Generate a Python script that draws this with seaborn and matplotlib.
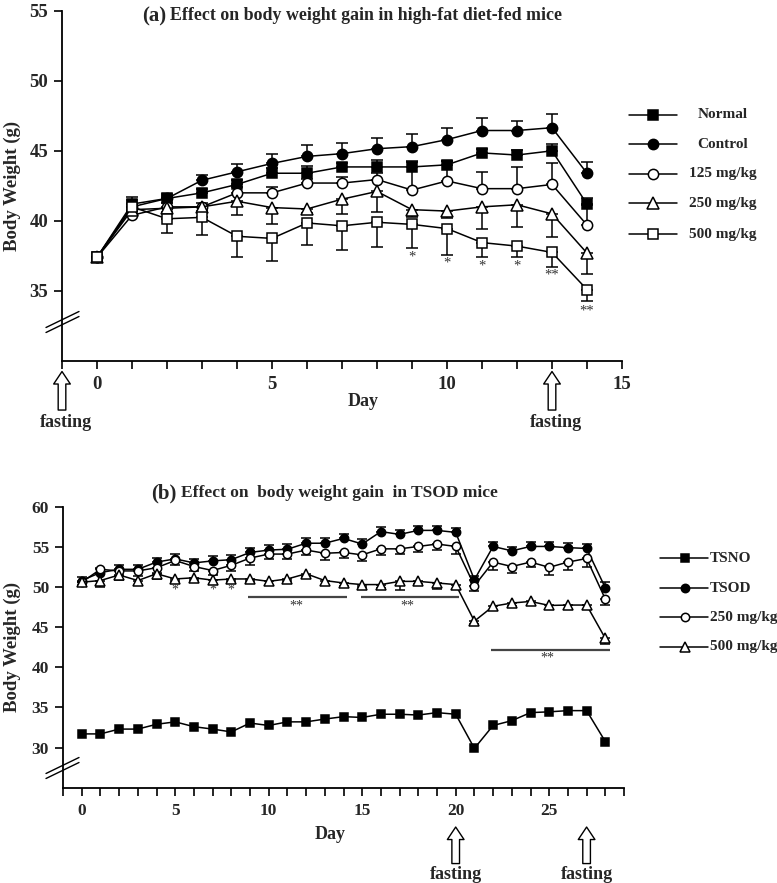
import numpy as np
import pandas as pd
import matplotlib
matplotlib.use("Agg")
import matplotlib.pyplot as plt
import seaborn as sns
from matplotlib.lines import Line2D
from matplotlib.ticker import MultipleLocator

# ---------------- data: panel (a) ----------------
days_a = [0, 1, 2, 3, 4, 5, 6, 7, 8, 9, 10, 11, 12, 13, 14]
normal_a = [37.4, 41.2, 41.6, 42.0, 42.6, 43.4, 43.4, 43.85, 43.85, 43.85, 44.0, 44.85, 44.7, 45.0, 41.2]
control_a = [37.4, 41.0, 41.6, 42.9, 43.5, 44.1, 44.6, 44.8, 45.15, 45.3, 45.8, 46.45, 46.45, 46.65, 43.4]
mg125_a = [37.4, 40.4, 41.0, 41.0, 42.0, 42.0, 42.7, 42.7, 42.95, 42.2, 42.85, 42.3, 42.3, 42.6, 39.7]
mg250_a = [37.4, 40.8, 40.9, 41.0, 41.4, 40.95, 40.85, 41.55, 42.1, 40.8, 40.7, 41.0, 41.15, 40.5, 37.7]
mg500_a = [37.4, 41.0, 40.15, 40.25, 38.9, 38.75, 39.85, 39.65, 39.9, 39.75, 39.45, 38.45, 38.2, 37.75, 35.1]

normal_err_a = [0, 0.5, 0.2, 0.3, 0.3, 0.4, 0.5, 0.3, 0.5, 0.4, 0.3, 0.3, 0.35, 0.5, 0.4]
control_err_a = [0, 0.5, 0.3, 0.35, 0.55, 0.65, 0.8, 0.75, 0.8, 0.9, 0.8, 0.9, 0.7, 0.95, 0.8]
mg125_err_a = [0, 0.3, 0.3, 0.3, 0.4, 0.4, 0.3, 0.4, 0.5, 2.0, 1.4, 1.2, 1.55, 1.5, 1.4]
mg250_err_a = [0, 0.3, 0.3, 0.3, 1.0, 1.15, 0.3, 1.05, 1.5, 0.5, 0.5, 1.55, 1.6, 1.65, 1.5]
mg500_err_a = [0, 0.3, 1.05, 1.25, 1.45, 1.6, 1.55, 1.7, 1.75, 1.7, 1.85, 1.0, 0.75, 1.05, 0.85]

sig_days_a = [9, 10, 11, 12, 13, 14]
sig_vals_a = [37.45, 37.0, 36.8, 36.8, 36.1, 33.6]
sig_text_a = ["*", "*", "*", "*", "**", "**"]
fasting_days_a = [-1, 13]

labels_a = ["Normal", "Control", "125 mg/kg", "250 mg/kg", "500 mg/kg"]

# ---------------- data: panel (b) ----------------
days_b = list(range(29))
tsno_b = [31.7, 31.7, 32.3, 32.3, 32.9, 33.2, 32.6, 32.3, 31.95, 33.05, 32.75, 33.2, 33.2, 33.55, 33.85,
          33.75, 34.15, 34.15, 34.05, 34.35, 34.15, 29.9, 32.75, 33.35, 34.35, 34.45, 34.6, 34.6, 30.75]
tsod_b = [50.8, 51.8, 52.2, 52.2, 53.1, 53.5, 53.0, 53.25, 53.4, 54.3, 54.6, 54.7, 55.45, 55.45, 56.05,
          55.35, 56.9, 56.55, 57.05, 57.05, 56.8, 50.9, 55.05, 54.5, 55.05, 55.05, 54.9, 54.8, 49.9]
mg250_b = [50.6, 52.2, 52.0, 52.0, 52.4, 53.3, 52.55, 52.05, 52.7, 53.6, 54.1, 54.1, 54.6, 54.2, 54.3,
           54.0, 54.75, 54.75, 55.05, 55.35, 55.05, 50.15, 53.1, 52.55, 53.1, 52.45, 53.1, 53.55, 48.5]
mg500_b = [50.6, 50.8, 51.5, 50.8, 51.65, 51.0, 51.15, 50.85, 51.0, 51.0, 50.7, 51.0, 51.65, 50.8, 50.5,
           50.3, 50.3, 50.7, 50.7, 50.5, 50.3, 45.75, 47.6, 48.0, 48.2, 47.7, 47.75, 47.75, 43.6]

tsod_err_b = [0.5, 0.6, 0.6, 0.6, 0.5, 0.6, 0.5, 0.6, 0.6, 0.6, 0.6, 0.6, 0.6, 0.6, 0.6,
              0.6, 0.6, 0.6, 0.6, 0.6, 0.6, 0.5, 0.6, 0.5, 0.6, 0.6, 0.6, 0.6, 0.7]
mg250_err_b = [0.5, 0.5, 0.6, 0.6, 0.6, 0.6, 0.6, 0.6, 0.7, 0.8, 0.6, 0.6, 0.6, 0.8, 0.7,
               0.8, 0.8, 0.7, 0.7, 0.8, 1.0, 0.7, 0.95, 0.8, 0.6, 1.0, 1.0, 1.0, 0.75]
mg500_err_b = [0.4, 0.8, 0.6, 0.5, 0.6, 0.3, 0.3, 0.5, 0.3, 0.3, 0.4, 0.3, 0.3, 0.5, 0.4,
               0.3, 0.4, 1.1, 0.3, 0.7, 0.5, 0.4, 0.5, 0.4, 0.4, 0.5, 0.5, 0.5, 0.65]

star_days_b = [5, 7, 8]
star_val_b = 49.65
bar_starts_b = [8.9, 14.95, 21.9]
bar_ends_b = [14.2, 20.2, 28.25]
bar_vals_b = [48.7, 48.7, 42.15]
bar_text_x_b = [11.5, 17.4, 24.9]
bar_text_y_b = [47.6, 47.6, 41.1]
fasting_days_b = [20, 27]

labels_b = ["TSNO", "TSOD", "250 mg/kg", "500 mg/kg"]

# ---------------- style ----------------
sns.set_style("ticks")
plt.rcParams["font.family"] = ["Liberation Serif", "DejaVu Serif"]
plt.rcParams["font.weight"] = "bold"
plt.rcParams["axes.labelweight"] = "bold"

W, H = 777, 883
fig = plt.figure(figsize=(W / 100, H / 100), dpi=100)

def fx(px):
    return px / W

def fy(py):
    return 1 - py / H

ax_a = fig.add_axes([fx(62), fy(361), fx(622) - fx(62), fy(10.7) - fy(361)])
ax_b = fig.add_axes([fx(63), fy(787.7), fx(624) - fx(63), fy(506.7) - fy(787.7)])

styles_a = [
    ("s", "black"), ("o", "black"), ("o", "white"), ("^", "white"), ("s", "white"),
]
series_a = [normal_a, control_a, mg125_a, mg250_a, mg500_a]
errs_a = [normal_err_a, control_err_a, mg125_err_a, mg250_err_a, mg500_err_a]
err_dir_a = ["up", "up", "up", "down", "down"]

ms_a = 7.4
for vals, errs, d, (mk, fc), lab in zip(series_a, errs_a, err_dir_a, styles_a, labels_a):
    df = pd.DataFrame({"Day": days_a, "w": vals})
    e = np.array(errs)
    yerr = [np.zeros_like(e), e] if d == "up" else [e, np.zeros_like(e)]
    ax_a.errorbar(days_a, vals, yerr=yerr, fmt="none", ecolor="black", elinewidth=1.1,
                  capsize=4, capthick=1.1, zorder=2)
    sns.lineplot(data=df, x="Day", y="w", ax=ax_a, color="black", lw=1.1, marker=mk,
                 markersize=ms_a * (1.1 if mk == "^" else 1.0), markerfacecolor=fc,
                 markeredgecolor="black", markeredgewidth=1.1, errorbar=None, zorder=3)

for dd, vv, tt in zip(sig_days_a, sig_vals_a, sig_text_a):
    ax_a.text(dd, vv, tt, ha="center", va="center", fontsize=10.5, color="#333333",
              fontweight="normal")

ax_a.set_xlim(-1, 15)
ax_a.set_ylim(30, 55)
ax_a.yaxis.set_major_locator(plt.FixedLocator([35, 40, 45, 50, 55]))
ax_a.xaxis.set_major_locator(MultipleLocator(5))
ax_a.xaxis.set_minor_locator(MultipleLocator(1))

styles_b = [("s", "black"), ("o", "black"), ("o", "white"), ("^", "white")]
series_b = [tsno_b, tsod_b, mg250_b, mg500_b]
errs_b = [None, tsod_err_b, mg250_err_b, mg500_err_b]
err_dir_b = [None, "up", "down", "down"]
ms_b = 6.0
for vals, errs, d, (mk, fc), lab in zip(series_b, errs_b, err_dir_b, styles_b, labels_b):
    df = pd.DataFrame({"Day": days_b, "w": vals})
    if errs is not None:
        e = np.array(errs)
        yerr = [np.zeros_like(e), e] if d == "up" else [e, np.zeros_like(e)]
        ax_b.errorbar(days_b, vals, yerr=yerr, fmt="none", ecolor="black", elinewidth=1.1,
                      capsize=3.5, capthick=1.1, zorder=2)
    sns.lineplot(data=df, x="Day", y="w", ax=ax_b, color="black", lw=1.1, marker=mk,
                 markersize=ms_b * (1.1 if mk == "^" else 1.0), markerfacecolor=fc,
                 markeredgecolor="black", markeredgewidth=1.1, errorbar=None, zorder=3)

for dd in star_days_b:
    ax_b.text(dd, star_val_b, "*", ha="center", va="center", fontsize=10, color="#333333",
              fontweight="normal")
for s, e, v, tx, ty in zip(bar_starts_b, bar_ends_b, bar_vals_b, bar_text_x_b, bar_text_y_b):
    ax_b.plot([s, e], [v, v], color="#444444", lw=1.6, solid_capstyle="butt")
    ax_b.text(tx, ty, "**", ha="center", va="center", fontsize=10, color="#333333",
              fontweight="normal")

ax_b.set_xlim(-1, 29)
ax_b.set_ylim(25, 60)
ax_b.yaxis.set_major_locator(plt.FixedLocator([30, 35, 40, 45, 50, 55, 60]))
ax_b.xaxis.set_major_locator(MultipleLocator(5))
ax_b.xaxis.set_minor_locator(MultipleLocator(1))

for ax, tsize in ((ax_a, 13.5), (ax_b, 12.5)):
    sns.despine(ax=ax)
    for sp in ("left", "bottom"):
        ax.spines[sp].set_linewidth(1.3)
        ax.spines[sp].set_color("black")
    ax.tick_params(axis="both", which="both", direction="out", length=6, width=1.2,
                   color="black", labelsize=tsize)
    ax.tick_params(axis="x", which="major", pad=5)
    ax.tick_params(axis="y", which="major", pad=4)
    ax.set_ylabel("Body Weight (g)", fontsize=13.5, fontweight="bold")
    ax.set_xlabel("Day", fontsize=13, fontweight="bold")
    for lab in ax.get_xticklabels() + ax.get_yticklabels():
        lab.set_fontweight("bold")
    ax.set_facecolor("white")

ax_a.yaxis.set_label_coords((21 - 62) / 560, 0.5)
ax_b.yaxis.set_label_coords((21 - 63) / 561, 0.5)
ax_a.xaxis.set_label_coords((363 - 62) / 560, (361 - 393) / 350.3)
ax_b.xaxis.set_label_coords((330 - 63) / 561, (787.7 - 826) / 281)

# axis break marks
for ax, ypx in ((ax_a, 322), (ax_b, 768)):
    for dy in (-2.5, 2.5):
        fig.add_artist(Line2D([fx(46), fx(79)], [fy(ypx + dy + 8), fy(ypx + dy - 8)],
                              transform=fig.transFigure, color="black", lw=1.0))

# fasting arrows
for ax, days, (y_top, y_bot, y_txt) in (
    (ax_a, fasting_days_a, (-0.03, -0.14, -0.175)),
    (ax_b, fasting_days_b, (-0.14, -0.27, -0.31)),
):
    tr = ax.get_xaxis_transform()
    for d in days:
        ax.annotate("", xy=(d, y_top), xytext=(d, y_bot), xycoords=tr, textcoords=tr,
                    arrowprops=dict(facecolor="white", edgecolor="black", width=5.5,
                                    headwidth=12, headlength=9, lw=1.0),
                    annotation_clip=False)
        ax.text(d + 0.1 * (1 if ax is ax_a else 0), y_txt, "fasting", transform=tr,
                ha="center", va="center", fontsize=13, fontweight="bold")

# titles
fig.text(fx(166), fy(16), "(a)", ha="right", va="center", fontsize=15, fontweight="bold")
fig.text(fx(170), fy(16), "Effect on body weight gain in high-fat diet-fed mice", ha="left",
         va="center", fontsize=12.9, fontweight="bold")
fig.text(fx(176), fy(493), "(b)", ha="right", va="center", fontsize=15, fontweight="bold")
fig.text(fx(181), fy(493), "Effect on  body weight gain  in TSOD mice", ha="left",
         va="center", fontsize=12.5, fontweight="bold")

# legends (drawn manually)
rows_a = [115, 144.3, 174, 203.3, 234]
for (mk, fc), lab, ry in zip(styles_a, labels_a, rows_a):
    fig.add_artist(Line2D([fx(629), fx(677)], [fy(ry), fy(ry)], transform=fig.transFigure,
                          color="black", lw=1.1))
    fig.add_artist(Line2D([fx(653)], [fy(ry)], transform=fig.transFigure, marker=mk,
                          markersize=ms_a * (1.1 if mk == "^" else 1.0), markerfacecolor=fc,
                          markeredgecolor="black", markeredgewidth=1.1, lw=0))
    fig.text(fx(723), fy(ry), lab, ha="center", va="center", fontsize=11, fontweight="bold")

rows_b = [558.3, 588.3, 617.3, 646.7]
for (mk, fc), lab, ry in zip(styles_b, labels_b, rows_b):
    fig.add_artist(Line2D([fx(660), fx(708)], [fy(ry), fy(ry)], transform=fig.transFigure,
                          color="black", lw=1.1))
    fig.add_artist(Line2D([fx(685)], [fy(ry)], transform=fig.transFigure, marker=mk,
                          markersize=ms_b * (1.1 if mk == "^" else 1.0), markerfacecolor=fc,
                          markeredgecolor="black", markeredgewidth=1.1, lw=0))
    fig.text(fx(710), fy(ry), lab, ha="left", va="center", fontsize=11, fontweight="bold")

fig.savefig("out.png", dpi=100, facecolor="white")
